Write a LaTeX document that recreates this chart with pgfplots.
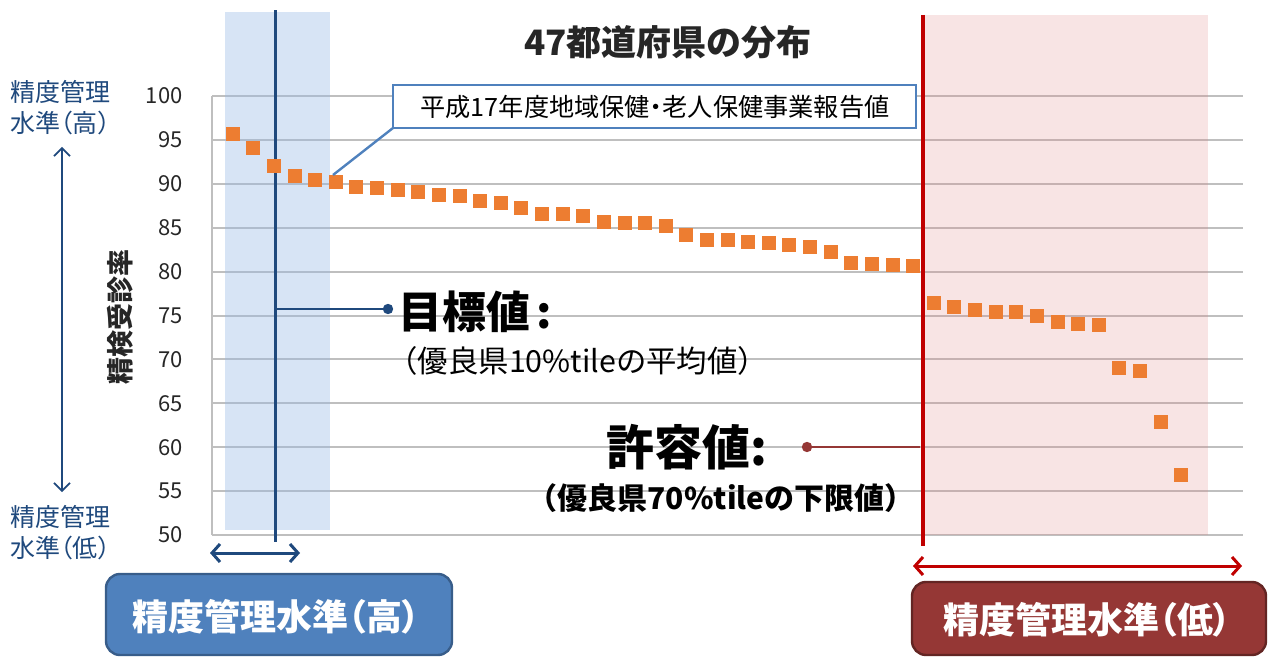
\documentclass[border=0pt]{standalone}
\usepackage{fontspec}
\setmainfont{Noto Sans CJK JP}
\newfontfamily\jpp{Noto Sans CJK JP}[RawFeature={+palt}]
\usepackage{pgfplots}
\usepackage{pgfplotstable}
\pgfplotsset{compat=1.18}
\usetikzlibrary{arrows.meta}
\definecolor{orng}{RGB}{237,125,49}
\definecolor{navy}{RGB}{31,73,125}
\definecolor{dred}{RGB}{192,0,0}
\definecolor{maroon}{RGB}{149,55,53}
\definecolor{maroonbord}{RGB}{99,37,35}
\definecolor{boxblue}{RGB}{79,129,189}
\definecolor{boxbord}{RGB}{56,93,138}
\definecolor{gridgray}{RGB}{191,191,191}
\definecolor{bandblue}{RGB}{150,185,230}
\definecolor{bandpink}{RGB}{225,130,130}

\pgfplotstableread{
x y
1 95.7
2 94.1
3 92.0
4 90.9
5 90.5
6 90.2
7 89.7
8 89.5
9 89.3
10 89.1
11 88.7
12 88.6
13 88.1
14 87.8
15 87.2
16 86.6
17 86.6
18 86.4
19 85.7
20 85.5
21 85.5
22 85.2
23 84.2
24 83.6
25 83.6
26 83.4
27 83.3
28 83.0
29 82.8
30 82.2
31 81.0
32 80.9
33 80.8
34 80.6
35 76.4
36 76.0
37 75.6
38 75.4
39 75.4
40 74.9
41 74.3
42 74.0
43 73.9
44 69.0
45 68.7
46 62.9
47 56.8
}\datatable

\begin{document}
\begin{tikzpicture}
\begin{scope}[x=0.5pt,y=-0.5pt]
\path[use as bounding box] (0,0) rectangle (1268,657);
\end{scope}
\begin{axis}[
  at={(106pt,-267.5pt)}, anchor=south west,
  width=515.5pt, height=219.5pt, scale only axis,
  xmin=0, xmax=50, ymin=50, ymax=100,
  ytick={50,55,...,100},
  xtick=\empty,
  ymajorgrids, grid style={gridgray, line width=1pt},
  axis x line*=bottom, axis y line*=left,
  axis line style={gridgray, line width=0.8pt, -},
  major tick length=0pt,
  yticklabel style={font=\fontsize{11}{13}\selectfont, text=black!85, inner sep=0pt, xshift=-14.5pt},
  /pgf/number format/assume math mode=true,
  clip=false,
]
\addplot[only marks, mark=square*, mark size=3.25pt, color=orng] table[x=x,y=y]{\datatable};
\fill[bandblue, opacity=0.38] (axis cs:0.63,109.57) rectangle (axis cs:5.72,50.57);
\fill[bandpink, opacity=0.22] (axis cs:34.58,109.23) rectangle (axis cs:48.30,50);
\draw[navy, line width=1.6pt] (axis cs:3.06,109.79) -- (axis cs:3.06,49.2);
\draw[dred, line width=2pt] (axis cs:34.48,109.23) -- (axis cs:34.48,48.75);
\end{axis}
\begin{scope}[x=0.5pt,y=-0.5pt]
% title
\node[font=\bfseries\fontsize{17.5}{20}\selectfont, text=black!85] at (668,42) {47都道府県の分布};
% callout
\draw[boxblue, line width=1.2pt] (393,128) -- (333,175);
\draw[boxblue, line width=1.2pt, fill=white] (393,85) rectangle (916,128);
\node[font=\jpp\fontsize{12.6}{14}\selectfont] at (655,107) {平成17年度地域保健・老人保健事業報告値};
% target
\draw[navy, line width=1.2pt] (277,309) -- (388,309);
\fill[navy] (388,309) circle (2.6pt);
\node[anchor=west, inner sep=0pt, font=\bfseries\fontsize{22}{26}\selectfont] at (398,312) {目標値\hspace{0.15em}:};
\node[anchor=west, inner sep=0pt, font=\fontsize{15.2}{18}\selectfont] at (387,361) {（優良県10\%tileの平均値）};
% tolerance
\draw[maroon, line width=1.2pt] (807,447) -- (920,447);
\fill[maroon] (807,447) circle (2.6pt);
\node[anchor=west, inner sep=0pt, font=\bfseries\fontsize{24}{28}\selectfont] at (606,447) {許容値:};
\node[inner sep=0pt, font=\bfseries\fontsize{15}{18}\selectfont] at (721,498) {（優良県70\%tileの下限値）};
% left labels
\node[anchor=west, inner sep=0pt, text=navy, font=\jpp\fontsize{12.5}{15}\selectfont] at (10,92) {精度管理};
\node[anchor=west, inner sep=0pt, text=navy, font=\jpp\fontsize{12.5}{15}\selectfont] at (10,123) {水準（高）};
\node[anchor=west, inner sep=0pt, text=navy, font=\jpp\fontsize{12.5}{15}\selectfont] at (10,517) {精度管理};
\node[anchor=west, inner sep=0pt, text=navy, font=\jpp\fontsize{12.5}{15}\selectfont] at (10,548) {水準（低）};
\draw[navy, line width=0.8pt, {Straight Barb[length=4pt,width=8pt]}-{Straight Barb[length=4pt,width=8pt]}] (62,147) -- (62,492);
% y label
\node[rotate=90, font=\bfseries\fontsize{13.5}{16}\selectfont, text=black!85] at (120,317) {精検受診率};
% bottom arrows
\draw[navy, line width=1.5pt, {Straight Barb[length=4pt,width=9pt]}-{Straight Barb[length=4pt,width=9pt]}] (210,553) -- (300,553);
\draw[dred, line width=1.5pt, {Straight Barb[length=4pt,width=9pt]}-{Straight Barb[length=4pt,width=9pt]}] (913,566) -- (1242,566);
% bottom boxes
\draw[draw=boxbord, line width=1.2pt, fill=boxblue, rounded corners=7pt] (106,574) rectangle (452,655);
\node[text=white, font=\jpp\bfseries\fontsize{18}{22}\selectfont] at (276,617) {精度管理水準（高）};
\draw[draw=maroonbord, line width=1.2pt, fill=maroon, rounded corners=7pt] (912,582) rectangle (1266,655);
\node[text=white, font=\jpp\bfseries\fontsize{18}{22}\selectfont] at (1087,620) {精度管理水準（低）};
\end{scope}
\end{tikzpicture}
\end{document}
